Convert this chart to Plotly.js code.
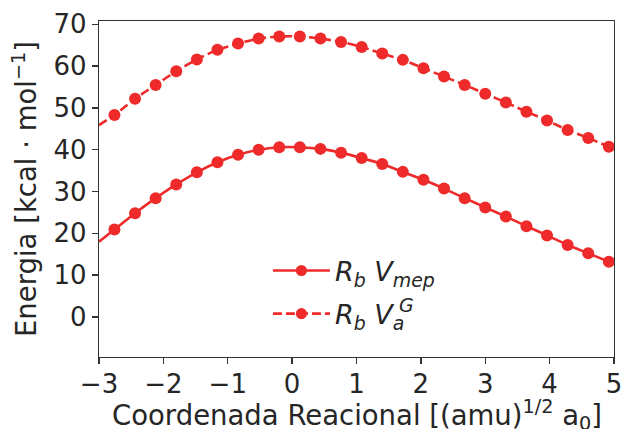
<!DOCTYPE html>
<html>
<head>
<meta charset="utf-8">
<script src="https://cdn.plot.ly/plotly-3.0.1.min.js"></script>
<style>html,body{margin:0;padding:0;background:#fff;}#chart{width:622px;height:429px;}</style>
</head>
<body>
<div id="chart"></div>
<script>
// Reaction coordinate sample points (markers)
var coordX = [-2.76, -2.44, -2.12, -1.80, -1.48, -1.16, -0.84, -0.52, -0.20, 0.12, 0.44, 0.76, 1.08,
              1.40, 1.72, 2.04, 2.36, 2.68, 3.00, 3.32, 3.64, 3.96, 4.28, 4.60, 4.92];
// Rb V_mep (solid)
var vMep = [20.9, 24.8, 28.4, 31.7, 34.6, 37.0, 38.8, 40.0, 40.6, 40.6, 40.2, 39.3, 38.0,
            36.6, 34.7, 32.8, 30.7, 28.4, 26.2, 24.0, 21.7, 19.5, 17.2, 15.2, 13.2];
// Rb V_a^G (dashed)
var vaG = [48.3, 52.2, 55.5, 58.8, 61.6, 63.9, 65.4, 66.6, 67.1, 67.1, 66.6, 65.8, 64.6,
           63.0, 61.5, 59.5, 57.5, 55.5, 53.4, 51.3, 49.1, 47.0, 44.7, 42.8, 40.7];
// curve ends at the axis limits (line continues beyond markers, no marker there)
var edgeX = [-3, 5];
var vMepEdge = [18.0, 12.7];
var vaGEdge = [45.9, 40.2];
var xTicks = [-3, -2, -1, 0, 1, 2, 3, 4, 5];
var yTicks = [0, 10, 20, 30, 40, 50, 60, 70];

var red = '#ee2a2a';
var font = 'DejaVu Sans, Liberation Sans, sans-serif';
var txt = '#262626';

function fullSeries(ys, edge) {
  var sizes = [0];
  for (var i = 0; i < ys.length; i++) sizes.push(12);
  sizes.push(0);
  return {
    x: [edgeX[0]].concat(coordX, [edgeX[1]]),
    y: [edge[0]].concat(ys, [edge[1]]),
    s: sizes
  };
}
var s1 = fullSeries(vMep, vMepEdge);
var s2 = fullSeries(vaG, vaGEdge);

var traces = [
  {x: s1.x, y: s1.y, mode: 'lines+markers', name: '<i>R<sub>b</sub> V<sub>mep</sub></i>',
   legendgroup: 'a', line: {color: red, width: 2.6, shape: 'spline', smoothing: 0.6},
   marker: {color: red, size: s1.s, opacity: 1, line: {width: 0}}},
  {x: s2.x, y: s2.y, mode: 'lines+markers', name: '<i>R<sub>b</sub> V<sub>a</sub></i>',
   legendgroup: 'b', line: {color: red, width: 2.6, dash: '9px,4px', shape: 'spline', smoothing: 0.6},
   marker: {color: red, size: s2.s, opacity: 1, line: {width: 0}}}
];

var axCommon = {
  showgrid: false, zeroline: false, showline: true, mirror: true,
  linecolor: '#333', linewidth: 1.3, ticks: 'outside', ticklen: 6, tickwidth: 1.3, tickcolor: '#333',
  tickfont: {family: font, size: 26, color: txt}, ticklabeloverflow: 'allow'
};

var layout = {
  width: 622, height: 429,
  margin: {l: 99, r: 8, t: 21, b: 72},
  paper_bgcolor: '#fff', plot_bgcolor: '#fff',
  font: {family: font, color: txt},
  xaxis: Object.assign({}, axCommon, {
    range: [-3, 5], tickvals: xTicks, ticklabelstandoff: -3
  }),
  yaxis: Object.assign({}, axCommon, {
    range: [-9.6, 70.8], tickvals: yTicks,
    title: {text: 'Energia [kcal · mol<sup>−1</sup>]', font: {family: font, size: 27.5, color: txt}, standoff: 8}
  }),
  legend: {
    x: 0.328, y: 0.192, xanchor: 'left', yanchor: 'middle',
    bgcolor: 'rgba(0,0,0,0)', borderwidth: 0,
    font: {family: font, size: 27, color: txt},
    traceorder: 'grouped', tracegroupgap: 5, itemwidth: 57
  },
  annotations: [
    {
      text: 'Coordenada Reacional [(amu)<sup>1/2</sup> a<sub>0</sub>]', xref: 'paper', yref: 'paper',
      x: 0.5, y: -0.173, xanchor: 'center', yanchor: 'middle', showarrow: false,
      font: {family: font, size: 27.5, color: txt}
    },
    {
      text: '<i>G</i>', xref: 'paper', yref: 'paper', x: 0.598, y: 0.155,
      xanchor: 'center', yanchor: 'middle', showarrow: false,
      font: {family: font, size: 19, color: txt}
    }
  ],
  showlegend: true
};

Plotly.newPlot('chart', traces, layout, {displayModeBar: false, staticPlot: true});
</script>
</body>
</html>
